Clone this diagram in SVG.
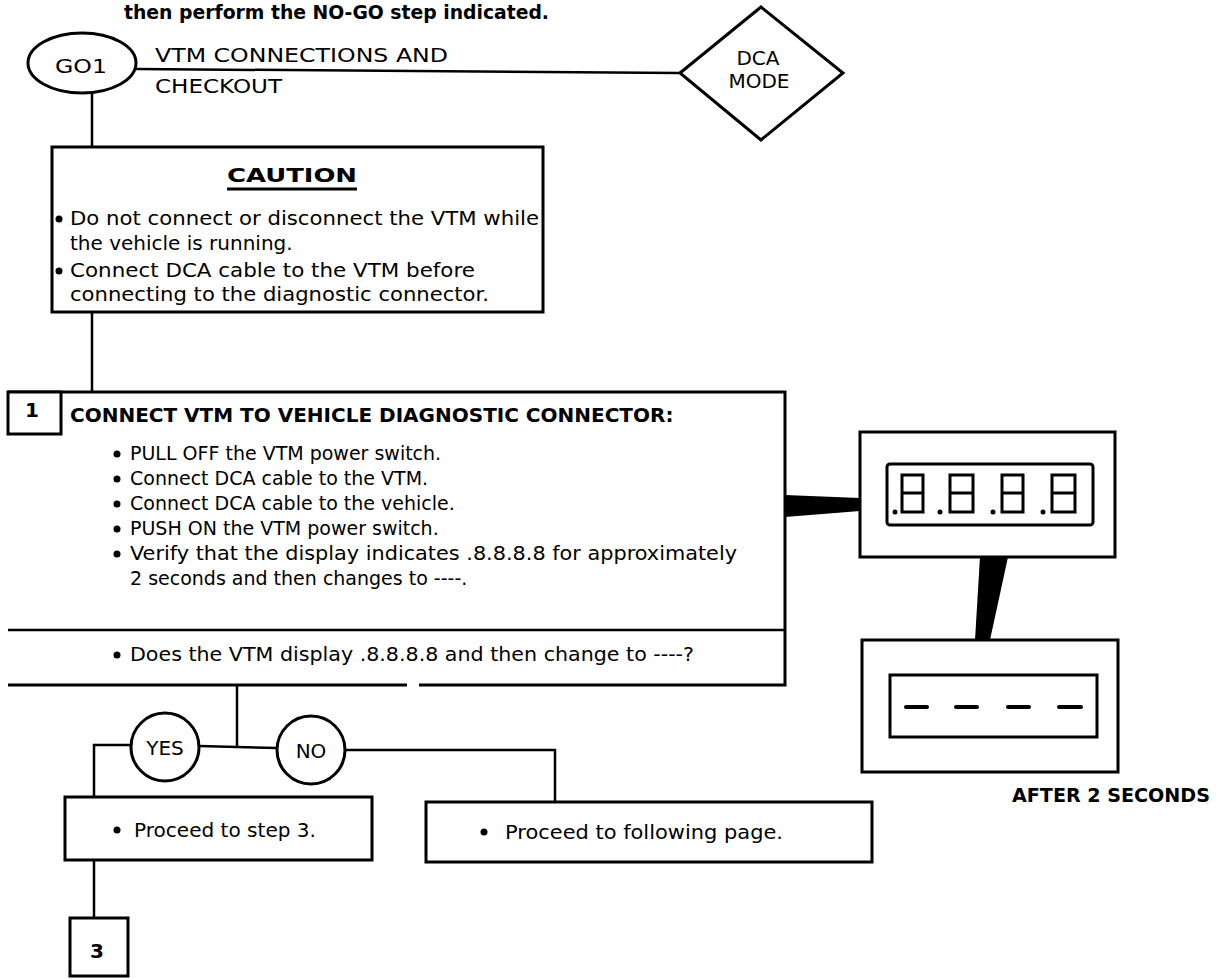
<svg xmlns="http://www.w3.org/2000/svg" width="1218" height="979" viewBox="0 0 1218 979">
<style>
.t{font-family:"DejaVu Sans","Liberation Sans",sans-serif;font-size:20px;fill:#000}
.s{font-size:19px}
.b{font-weight:bold}
.c{text-anchor:middle}
.box{fill:#fff;stroke:#000;stroke-width:3}
.ln{fill:none;stroke:#000;stroke-width:2.5}
.seg{fill:none;stroke:#000;stroke-width:3}
.dot{fill:#000}
</style>
<rect width="1218" height="979" fill="#fff"/>
<text class="t b" x="124" y="19" font-size="18" textLength="425" lengthAdjust="spacingAndGlyphs">then perform the NO-GO step indicated.</text>

<g id="connectors">
<polyline class="ln" points="136,69 680,73"/>
<line class="ln" x1="92" y1="93" x2="92" y2="147"/>
<line class="ln" x1="92" y1="312" x2="92" y2="392"/>
<line class="ln" x1="237" y1="685" x2="237" y2="746"/>
<polyline class="ln" points="94,797 94,745 131,745"/>
<line class="ln" x1="199" y1="746" x2="277" y2="748"/>
<polyline class="ln" points="345,750 555,750 555,802"/>
<line class="ln" x1="94" y1="860" x2="94" y2="918"/>
<polygon fill="#000" points="785,495 860,498 860,511 785,517"/>
<polygon fill="#000" points="980,557 1008,557 990,640 975,640"/>
</g>

<g id="go1">
<ellipse cx="82" cy="63" rx="54" ry="30" class="box"/>
<text class="t c" x="81" y="73" font-size="22" textLength="52" lengthAdjust="spacingAndGlyphs">GO1</text>
</g>

<g id="title">
<text class="t" x="155" y="62" font-size="22" textLength="293" lengthAdjust="spacingAndGlyphs">VTM CONNECTIONS AND</text>
<text class="t" x="155" y="93" font-size="22" textLength="127" lengthAdjust="spacingAndGlyphs">CHECKOUT</text>
</g>

<g id="dca-mode">
<polygon class="box" points="680,73 761,7 843,73 761,140"/>
<text class="t c" x="758" y="65" font-size="23">DCA</text>
<text class="t c" x="759" y="88" font-size="23">MODE</text>
</g>

<g id="caution">
<rect class="box" x="52" y="147" width="491" height="165"/>
<text class="t b c" x="292" y="182" font-size="21" textLength="130" lengthAdjust="spacingAndGlyphs">CAUTION</text>
<line x1="227" y1="189" x2="357" y2="189" stroke="#000" stroke-width="3"/>
<circle class="dot" cx="59" cy="219" r="3.5"/>
<text class="t" x="70" y="225" textLength="469" lengthAdjust="spacingAndGlyphs">Do not connect or disconnect the VTM while</text>
<text class="t" x="70" y="250">the vehicle is running.</text>
<circle class="dot" cx="59" cy="271" r="3.5"/>
<text class="t" x="70" y="277" textLength="405" lengthAdjust="spacingAndGlyphs">Connect DCA cable to the VTM before</text>
<text class="t" x="70" y="301" textLength="419" lengthAdjust="spacingAndGlyphs">connecting to the diagnostic connector.</text>
</g>

<g id="step1">
<path class="box" d="M8,392 H785 V685 H419 M407,685 H8 Z" fill="#fff"/>
<line class="ln" x1="8" y1="630" x2="785" y2="630" stroke-width="3"/>
<rect class="box" x="8" y="392" width="53" height="42"/>
<text class="t b c" x="32" y="417" font-size="17">1</text>
<text class="t b" x="70" y="422" font-size="22">CONNECT VTM TO VEHICLE DIAGNOSTIC CONNECTOR:</text>
<circle class="dot" cx="117" cy="454" r="3.5"/>
<text class="t s" x="130" y="460">PULL OFF the VTM power switch.</text>
<circle class="dot" cx="117" cy="479" r="3.5"/>
<text class="t s" x="130" y="485">Connect DCA cable to the VTM.</text>
<circle class="dot" cx="117" cy="504" r="3.5"/>
<text class="t s" x="130" y="510">Connect DCA cable to the vehicle.</text>
<circle class="dot" cx="117" cy="529" r="3.5"/>
<text class="t s" x="130" y="535">PUSH ON the VTM power switch.</text>
<circle class="dot" cx="117" cy="554" r="3.5"/>
<text class="t s" x="130" y="560" textLength="607" lengthAdjust="spacingAndGlyphs">Verify that the display indicates .8.8.8.8 for approximately</text>
<text class="t s" x="130" y="585">2 seconds and then changes to ----.</text>
<circle class="dot" cx="117" cy="655" r="3.5"/>
<text class="t s" x="130" y="661" textLength="564" lengthAdjust="spacingAndGlyphs">Does the VTM display .8.8.8.8 and then change to ----?</text>
</g>

<g id="display-1">
<rect class="box" x="860" y="432" width="255" height="125"/>
<rect class="box" x="887" y="464" width="206" height="61" rx="3"/>
<path class="seg" d="M902,475H923V512H902ZM902,493H923"/>
<path class="seg" d="M950,475H973V512H950ZM950,493H973"/>
<path class="seg" d="M1002,475H1023V512H1002ZM1002,493H1023"/>
<path class="seg" d="M1052,475H1075V512H1052ZM1052,493H1075"/>
<circle class="dot" cx="895" cy="512" r="2.5"/>
<circle class="dot" cx="940" cy="512" r="2.5"/>
<circle class="dot" cx="993" cy="512" r="2.5"/>
<circle class="dot" cx="1043" cy="512" r="2.5"/>
</g>

<g id="display-2">
<rect class="box" x="862" y="640" width="256" height="132"/>
<rect class="box" x="890" y="675" width="207" height="62"/>
<g stroke="#000" stroke-width="4" stroke-linecap="round">
<line x1="906" y1="707" x2="927" y2="707"/>
<line x1="956" y1="707" x2="977" y2="707"/>
<line x1="1008" y1="707" x2="1029" y2="707"/>
<line x1="1059" y1="707" x2="1081" y2="707"/>
</g>
<text class="t b" x="1012" y="802" font-size="21" textLength="198" lengthAdjust="spacingAndGlyphs">AFTER 2 SECONDS</text>
</g>

<g id="yes">
<circle class="box" cx="165" cy="747" r="34"/>
<text class="t c" x="165" y="755" font-size="23">YES</text>
</g>
<g id="no">
<circle class="box" cx="311" cy="750" r="34"/>
<text class="t c" x="311" y="758" font-size="23">NO</text>
</g>

<g id="proceed-3">
<rect class="box" x="65" y="797" width="307" height="63"/>
<circle class="dot" cx="117" cy="830" r="3.5"/>
<text class="t" x="134" y="837" textLength="182" lengthAdjust="spacingAndGlyphs">Proceed to step 3.</text>
</g>
<g id="proceed-next">
<rect class="box" x="426" y="802" width="446" height="60"/>
<circle class="dot" cx="484" cy="832" r="3.5"/>
<text class="t" x="505" y="839" textLength="278" lengthAdjust="spacingAndGlyphs">Proceed to following page.</text>
</g>

<g id="step3">
<rect class="box" x="70" y="918" width="58" height="58"/>
<text class="t b c" x="97" y="958" font-size="22">3</text>
</g>
</svg>
